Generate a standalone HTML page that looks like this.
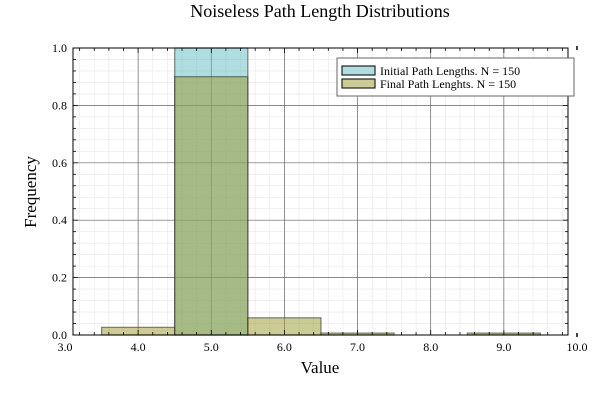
<!DOCTYPE html>
<html><head><meta charset="utf-8"><style>
body{margin:0;background:#fff}
svg{font-family:"Liberation Serif",serif}
</style></head><body>
<svg id="c" width="600" height="400" xmlns="http://www.w3.org/2000/svg"></svg>
<script>
const binEdges=[3.5,4.5,5.5,6.5,7.5,8.5,9.5];
const initialFreq=[0,1.0,0,0,0,0];
const finalFreq=[0.0267,0.9,0.06,0.0067,0,0.0067];
const xTicks=[3,4,5,6,7,8,9,10];
const xTickLabels=["3.0","4.0","5.0","6.0","7.0","8.0","9.0","10.0"];
const yTicks=[0,0.2,0.4,0.6,0.8,1.0];
const yTickLabels=["0.0","0.2","0.4","0.6","0.8","1.0"];
const L=73,R=568,T=48,B=335;
const X=v=>65+(v-3)*73.14, Y=v=>B-(v)*(B-T);
const s=document.getElementById('c'),NS='http://www.w3.org/2000/svg';
function mk(t,a,p){const e=document.createElementNS(NS,t);for(const k in a)e.setAttribute(k,a[k]);(p||s).appendChild(e);return e;}
for(let v=3;v<=10.001;v+=0.2){const x=X(v);if(x<L||x>R)continue;const e=mk('line',{x1:x,x2:x,y1:T,y2:B,stroke:'#e6e6e6','stroke-width':0.6});}
for(let v=0;v<=1.001;v+=0.04){const y=Y(v);const e=mk('line',{x1:L,x2:R,y1:y,y2:y,stroke:'#e6e6e6','stroke-width':0.6});}
xTicks.forEach(v=>{const x=X(v);if(x<L||x>R)return;const e=mk('line',{x1:x,x2:x,y1:T,y2:B,stroke:'#666','stroke-width':0.7});});
yTicks.forEach(v=>{const y=Y(v);const e=mk('line',{x1:L,x2:R,y1:y,y2:y,stroke:'#666','stroke-width':0.7});});
function bars(arr,fill,name){arr.forEach((f,i)=>{if(f<=0)return;const x0=X(binEdges[i]),x1=X(binEdges[i+1]);const e=mk('rect',{x:x0,y:Y(f),width:x1-x0,height:B-Y(f),fill:fill,'fill-opacity':0.5,stroke:'#333','stroke-opacity':0.6,'stroke-width':1.2});});}
bars(initialFreq,'rgb(97,187,193)','initial');
bars(finalFreq,'rgb(155,151,43)','final');
let e=mk('rect',{x:L,y:T,width:R-L,height:B-T,fill:'none',stroke:'#000','stroke-width':1});
for(let v=3;v<=10.001;v+=0.2){const x=X(v);if(x<L||x>R)continue;const maj=Math.abs(v-Math.round(v))<0.01;const len=maj?5:3;mk('line',{x1:x,x2:x,y1:B,y2:B-len,stroke:'#000','stroke-width':0.8});mk('line',{x1:x,x2:x,y1:T,y2:T+len,stroke:'#000','stroke-width':0.8});}
for(let v=0;v<=1.001;v+=0.04){const y=Y(v);const maj=Math.abs(v*5-Math.round(v*5))<0.01;const len=maj?5:3;mk('line',{x1:L,x2:L+len,y1:y,y2:y,stroke:'#000','stroke-width':0.8});mk('line',{x1:R,x2:R-len,y1:y,y2:y,stroke:'#000','stroke-width':0.8});}
mk('line',{x1:577,x2:577,y1:46,y2:50,stroke:'#000','stroke-width':1.5});
mk('line',{x1:577,x2:577,y1:333,y2:337,stroke:'#000','stroke-width':1.5});
xTicks.forEach((v,i)=>{const t=mk('text',{x:X(v),y:351,'text-anchor':'middle','font-size':12});t.textContent=xTickLabels[i];});
yTicks.forEach((v,i)=>{const t=mk('text',{x:67,y:Y(v)+4,'text-anchor':'end','font-size':12});t.textContent=yTickLabels[i];});
</script>
<svg style="position:absolute;left:0;top:0" width="600" height="400" xmlns="http://www.w3.org/2000/svg">
<text x="320" y="17" text-anchor="middle" font-size="18" font-family="Liberation Serif,serif">Noiseless Path Length Distributions</text>
<text x="320" y="373" text-anchor="middle" font-size="17" font-family="Liberation Serif,serif">Value</text>
<text x="36" y="192" text-anchor="middle" font-size="17" font-family="Liberation Serif,serif" transform="rotate(-90 36 192)">Frequency</text>
<g font-family="Liberation Serif,serif" font-size="12">
<rect x="337" y="58" width="237" height="38" fill="#fff" stroke="#666" stroke-width="1"/>
<rect x="342" y="66" width="33" height="9" fill="#b0dde0" stroke="#222" stroke-width="1.2"/>
<text x="380" y="75">Initial Path Lengths. N = 150</text>
<rect x="342" y="79" width="33" height="9" fill="#cdcb95" stroke="#222" stroke-width="1.2"/>
<text x="380" y="88">Final Path Lenghts. N = 150</text>
</g>
</svg>
</body></html>
